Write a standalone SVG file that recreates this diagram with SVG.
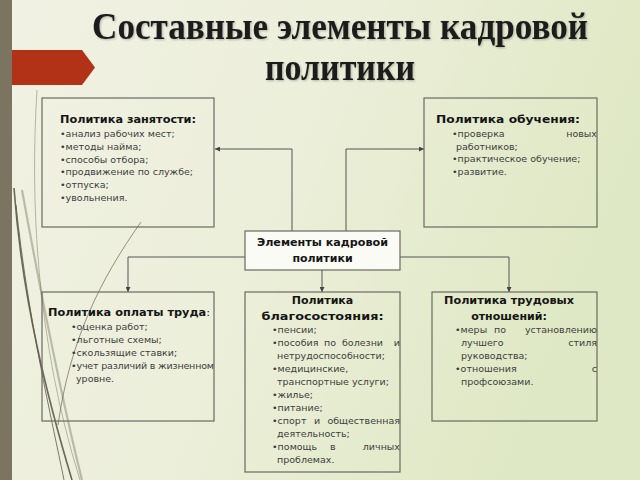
<svg xmlns="http://www.w3.org/2000/svg" width="640" height="480" viewBox="0 0 640 480">
<defs>
<linearGradient id="bg" x1="0" y1="0" x2="1" y2="0.3">
<stop offset="0" stop-color="#f1f1e3"/>
<stop offset="0.5" stop-color="#ecefda"/>
<stop offset="1" stop-color="#dfe8c4"/>
</linearGradient>
<marker id="arr" viewBox="0 0 10 10" refX="10" refY="5" markerWidth="5" markerHeight="5" orient="auto" markerUnits="userSpaceOnUse">
<path d="M0,0 L10,5 L0,10 z" fill="#444"/>
</marker>
<filter id="sh" x="-10%" y="-40%" width="120%" height="180%">
<feGaussianBlur in="SourceAlpha" stdDeviation="1"/>
<feOffset dx="1" dy="1" result="b"/>
<feFlood flood-color="#000" flood-opacity="0.25"/>
<feComposite in2="b" operator="in"/>
<feMerge><feMergeNode/><feMergeNode in="SourceGraphic"/></feMerge>
</filter>
</defs>
<style>
.box{fill:none;stroke:#6a6a62;stroke-width:1.2}
.cbox{fill:#fbfbf6;stroke:#6a6a62;stroke-width:1.2}
.ttl{font-family:"DejaVu Sans",Verdana,sans-serif;font-weight:bold;font-size:11px;fill:#151515}
.it{font-family:"DejaVu Sans",Verdana,sans-serif;font-size:9.5px;fill:#3d3d3d}
.con{fill:none;stroke:#555;stroke-width:1}
.deco{fill:none;stroke:#5c5a48}
.hd{font-family:"Liberation Serif","Times New Roman",serif;font-weight:bold;font-size:38px;fill:#1b1b1b}
</style>
<rect width="640" height="480" fill="url(#bg)"/>
<rect x="0" y="0" width="12" height="480" fill="#7a7461"/>
<path d="M12,50 L82,50 L95,67.5 L82,85 L12,85 z" fill="#b23218"/>
<g id="decor">
<path class="deco" d="M37,90 C30,200 36,340 80,480" stroke-width="0.8" opacity="0.5"/>
<path class="deco" d="M14,188 C22,300 48,400 72,480" stroke-width="1.6" opacity="0.9"/>
<path class="deco" d="M16,205 C28,320 52,420 64,480" stroke-width="1" opacity="0.8"/>
<path class="deco" d="M22,190 C42,300 62,400 82,480" stroke-width="2.2" opacity="0.35"/>
<path class="deco" d="M141,222 C100,280 70,340 58,425" stroke-width="0.8" opacity="0.8"/>
</g>
<g id="title" filter="url(#sh)">
<text class="hd" x="340" y="39" text-anchor="middle" textLength="496" lengthAdjust="spacingAndGlyphs">Составные элементы кадровой</text>
<text class="hd" x="340" y="80" text-anchor="middle" textLength="150" lengthAdjust="spacingAndGlyphs">политики</text>
</g>
<g id="connectors">
<polyline class="con" points="292,231 292,149 215,149" marker-end="url(#arr)"/>
<polyline class="con" points="346,231 346,149 424,149" marker-end="url(#arr)"/>
<polyline class="con" points="245,257 128,257 128,292" marker-end="url(#arr)"/>
<polyline class="con" points="400,257 509,257 509,292" marker-end="url(#arr)"/>
<polyline class="con" points="322,270 322,292" marker-end="url(#arr)"/>
</g>
<g id="employment">
<rect class="box" x="42" y="98" width="172" height="129"/>
<text class="ttl" x="60" y="123" textLength="136" lengthAdjust="spacingAndGlyphs">Политика занятости:</text>
<text class="it" x="60" y="137">•анализ рабочих мест;</text>
<text class="it" x="60" y="150">•методы найма;</text>
<text class="it" x="60" y="163">•способы отбора;</text>
<text class="it" x="60" y="175">•продвижение по службе;</text>
<text class="it" x="60" y="188">•отпуска;</text>
<text class="it" x="60" y="201">•увольнения.</text>
</g>
<g id="training">
<rect class="box" x="424" y="98" width="173" height="129"/>
<text class="ttl" x="436" y="123" textLength="144" lengthAdjust="spacingAndGlyphs">Политика обучения:</text>
<text class="it" x="452" y="137">•проверка</text>
<text class="it" x="597" y="137" text-anchor="end">новых</text>
<text class="it" x="456" y="150">работников;</text>
<text class="it" x="452" y="162">•практическое обучение;</text>
<text class="it" x="452" y="175">•развитие.</text>
</g>
<g id="center">
<rect class="cbox" x="245" y="231" width="155" height="39"/>
<text class="ttl" x="322.5" y="246" text-anchor="middle" textLength="131" lengthAdjust="spacingAndGlyphs">Элементы кадровой</text>
<text class="ttl" x="322.5" y="262" text-anchor="middle">политики</text>
</g>
<g id="pay">
<rect class="box" x="42" y="292" width="172" height="129"/>
<text class="ttl" x="48" y="316" textLength="162" lengthAdjust="spacingAndGlyphs">Политика оплаты труда<tspan font-weight="normal">:</tspan></text>
<text class="it" x="71" y="330">•оценка работ;</text>
<text class="it" x="71" y="343">•льготные схемы;</text>
<text class="it" x="71" y="356">•скользящие ставки;</text>
<text class="it" x="71" y="369" textLength="143" lengthAdjust="spacing">•учет различий в жизненном</text>
<text class="it" x="76" y="382">уровне.</text>
</g>
<g id="welfare">
<rect class="box" x="245" y="292" width="155" height="180"/>
<text class="ttl" x="322.5" y="304" text-anchor="middle">Политика</text>
<text class="ttl" x="322.5" y="320" text-anchor="middle" textLength="122" lengthAdjust="spacingAndGlyphs">благосостояния:</text>
<text class="it" x="272" y="333">•пенсии;</text>
<text class="it" x="272" y="346">•пособия</text>
<text class="it" x="324" y="346">по</text>
<text class="it" x="342" y="346">болезни</text>
<text class="it" x="400" y="346" text-anchor="end">и</text>
<text class="it" x="277" y="359">нетрудоспособности;</text>
<text class="it" x="272" y="372">•медицинские,</text>
<text class="it" x="277" y="385">транспортные услуги;</text>
<text class="it" x="272" y="398">•жилье;</text>
<text class="it" x="272" y="411">•питание;</text>
<text class="it" x="272" y="424">•спорт</text>
<text class="it" x="314" y="424">и</text>
<text class="it" x="400" y="424" text-anchor="end">общественная</text>
<text class="it" x="277" y="437">деятельность;</text>
<text class="it" x="272" y="450">•помощь</text>
<text class="it" x="330" y="450">в</text>
<text class="it" x="400" y="450" text-anchor="end">личных</text>
<text class="it" x="277" y="463">проблемах.</text>
</g>
<g id="labor">
<rect class="box" x="432" y="292" width="165" height="129"/>
<text class="ttl" x="509" y="304" text-anchor="middle" textLength="130" lengthAdjust="spacingAndGlyphs">Политика трудовых</text>
<text class="ttl" x="509" y="320" text-anchor="middle">отношений:</text>
<text class="it" x="455" y="333">•меры</text>
<text class="it" x="494" y="333">по</text>
<text class="it" x="597" y="333" text-anchor="end">установлению</text>
<text class="it" x="461" y="346">лучшего</text>
<text class="it" x="597" y="346" text-anchor="end">стиля</text>
<text class="it" x="461" y="359">руководства;</text>
<text class="it" x="455" y="372">•отношения</text>
<text class="it" x="597" y="372" text-anchor="end">с</text>
<text class="it" x="461" y="385">профсоюзами.</text>
</g>
</svg>
